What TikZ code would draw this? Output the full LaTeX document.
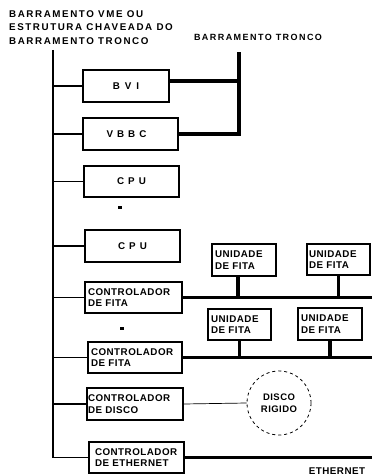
\documentclass[tikz,border=0pt]{standalone}
\usepackage{fontspec}
\setmainfont{Liberation Sans}
\newfontfamily\ttlfont[LetterSpace=16]{Liberation Sans}
\newfontfamily\bxfont[LetterSpace=5]{Liberation Sans}
\begin{document}
\begin{tikzpicture}[x=1pt,y=-1pt,
  every node/.style={font=\bxfont\fontsize{9.8}{11.5}\selectfont\bfseries},
  box/.style={draw,line width=1.2pt,inner sep=0pt},
  lbox/.style={box,align=left,text width=#1,inner xsep=3pt},
  link/.style={line width=1.5pt},
  bus/.style={line width=3.4pt},
  lbl/.style={inner sep=0pt}]
\useasboundingbox (0,0) rectangle (372,476);
% titles
\node[lbl,anchor=north west,align=left,font=\ttlfont\fontsize{9.8}{13.5}\selectfont\bfseries] (title) at (9,10)
  {BARRAMENTO VME OU\\ESTRUTURA CHAVEADA DO\\BARRAMENTO TRONCO};
\node[lbl,font=\ttlfont\fontsize{9}{11}\selectfont\bfseries] (trlbl) at (258,37) {BARRAMENTO TRONCO};
% boxes
\node[box,minimum width=86,minimum height=32] (bvi) at (126,86) {B\hspace{5pt}V\hspace{5pt}I};
\node[box,minimum width=95,minimum height=32] (vbbc) at (130.5,134) {\hspace{-8pt}V\hspace{4pt}B\hspace{4pt}B\hspace{4pt}C};
\node[box,minimum width=95,minimum height=31] (cpua) at (131.5,181.5) {C\hspace{4pt}P\hspace{4pt}U};
\node[box,minimum width=95,minimum height=32] (cpub) at (132.5,246) {C\hspace{4pt}P\hspace{4pt}U};
\node[lbox=91pt,minimum height=31] (cfa) at (133.5,297.5) {CONTROLADOR\\DE FITA};
\node[lbox=88pt,minimum height=31] (cfb) at (135,357.5) {CONTROLADOR\\DE FITA};
\node[lbox=94pt,minimum height=32,inner xsep=1pt] (cd) at (135,404) {CONTROLADOR\\DE DISCO};
\node[lbox=83pt,minimum height=31,inner xsep=6pt] (ce) at (136.5,457.5) {CONTROLADOR\\DE ETHERNET};
\node[lbox=58pt,minimum height=32] (ua) at (244,260) {UNIDADE\\DE FITA};
\node[lbox=59pt,minimum height=31,inner xsep=2pt] (ub) at (338.5,259.5) {UNIDADE\\DE FITA};
\node[lbox=57pt,minimum height=31] (uc) at (239.5,324.5) {UNIDADE\\DE FITA};
\node[lbox=58pt,minimum height=32] (ud) at (330,324) {UNIDADE\\DE FITA};
\node[draw,circle,dash pattern=on 3pt off 3pt,line width=0.8pt,minimum size=64,inner sep=0pt,align=center,
  font=\bxfont\fontsize{9.5}{12.5}\selectfont\bfseries] (disk) at (279,403) {DISCO\\RIGIDO};
\node[lbl] (eth) at (337,471) {ETHERNET};
% dots
\node[fill,inner sep=0pt,minimum width=4,minimum height=3] (dota) at (120,207) {};
\node[fill,inner sep=0pt,minimum width=4,minimum height=3] (dotb) at (122,328) {};
% main vertical bus
\coordinate (mtop) at (53,50);
\draw[link] (mtop) |- (ce.west);
\foreach \n in {bvi,vbbc,cpua,cpub,cfa,cfb,cd}
  \draw[link] (\n.west) -- (\n.west -| mtop);
% trunk
\coordinate (ttop) at (239,52);
\draw[bus] ([yshift=5pt]bvi.east) -| (ttop);
\draw[bus] (vbbc.east) -| (ttop);
% tape buses
\coordinate (redge) at (372,0);
\draw[bus] (cfa.east) -- (cfa.east -| redge);
\draw[bus] (cfb.east) -- (cfb.east -| redge);
\draw[bus] ([xshift=-6pt]ua.south) -- ([xshift=-6pt]ua.south |- cfa.east);
\draw[bus] (ub.south) -- (ub.south |- cfa.east);
\draw[bus] (uc.south) -- (uc.south |- cfb.east);
\draw[bus] (ud.south) -- (ud.south |- cfb.east);
% disk
\draw[line width=0.7pt] (cd.east) -- (disk.west);
% ethernet
\draw[bus] (ce.east) -- (ce.east -| redge);
\end{tikzpicture}
\end{document}
